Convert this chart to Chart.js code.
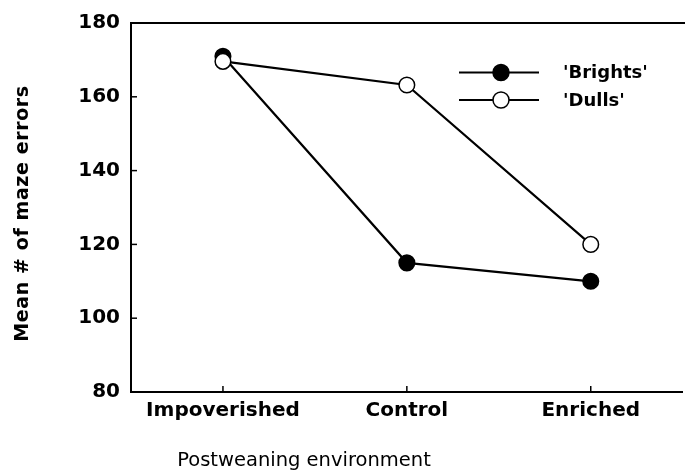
<!DOCTYPE html>
<html>
<head>
<meta charset="utf-8">
<script src="https://cdn.jsdelivr.net/npm/chart.js@4"></script>
<style>
  html, body { margin: 0; padding: 0; background: #fff; overflow: hidden; }
  #wrap { position: relative; width: 692px; height: 470px; }
</style>
</head>
<body>
<div id="wrap"><canvas id="c"></canvas></div>
<script>
const categories = ['Impoverished', 'Control', 'Enriched'];
const brights = [171, 115, 110];
const dulls = [169.6, 163.2, 120];
const yTicks = [80, 100, 120, 140, 160, 180];
const seriesNames = ["'Brights'", "'Dulls'"];
const xTitle = 'Postweaning environment';
const yTitle = 'Mean # of maze errors';

const customDraw = {
  id: 'customDraw',
  afterDraw(chart) {
    const ctx = chart.ctx;
    const a = chart.chartArea;
    const xs = chart.scales.x, ys = chart.scales.y;
    ctx.save();
    ctx.strokeStyle = '#000';
    ctx.lineWidth = 2;
    // top border
    ctx.beginPath();
    ctx.moveTo(a.left, a.top);
    ctx.lineTo(chart.width, a.top);
    ctx.stroke();
    // inward ticks
    ctx.lineWidth = 1.5;
    yTicks.forEach(v => {
      const y = ys.getPixelForValue(v);
      ctx.beginPath(); ctx.moveTo(a.left, y); ctx.lineTo(a.left + 6, y); ctx.stroke();
    });
    categories.forEach((c, i) => {
      const x = xs.getPixelForValue(i);
      ctx.beginPath(); ctx.moveTo(x, a.bottom); ctx.lineTo(x, a.bottom - 6); ctx.stroke();
    });
    // axis titles
    ctx.fillStyle = '#000';
    ctx.font = '19.5px "DejaVu Sans"';
    ctx.textAlign = 'center';
    ctx.textBaseline = 'alphabetic';
    ctx.fillText(xTitle, a.left + 173, 466);
    ctx.save();
    ctx.translate(28, (a.top + a.bottom) / 2 + 6);
    ctx.rotate(-Math.PI / 2);
    ctx.font = 'bold 19px "DejaVu Sans"';
    try { ctx.letterSpacing = '0.6px'; } catch (e) {}
    ctx.fillText(yTitle, 0, 0);
    ctx.restore();
    // legend
    const rows = [72.5, 100];
    chart.data.datasets.map((d, i) => ({ d, i }))
      .sort((p, q) => p.d.legendIndex - q.d.legendIndex)
      .forEach(({ d }, k) => {
        const y = rows[k];
        ctx.strokeStyle = '#000';
        ctx.lineWidth = 2.2;
        ctx.beginPath(); ctx.moveTo(459, y); ctx.lineTo(539, y); ctx.stroke();
        ctx.beginPath();
        ctx.arc(501, y, 8, 0, Math.PI * 2);
        ctx.fillStyle = d.pointBackgroundColor;
        ctx.fill();
        ctx.lineWidth = 1.5;
        ctx.stroke();
        ctx.fillStyle = '#000';
        ctx.font = 'bold 18px "DejaVu Sans"';
        ctx.textAlign = 'left';
        ctx.textBaseline = 'middle';
        ctx.fillText(d.label, 563, y + 1);
      });
    ctx.restore();
  }
};

new Chart(document.getElementById('c'), {
  type: 'line',
  data: {
    labels: categories,
    datasets: [
      {
        label: seriesNames[0], legendIndex: 0, order: 1,
        data: brights,
        borderColor: '#000', borderWidth: 2.2,
        pointBackgroundColor: '#000', pointBorderColor: '#000',
        pointRadius: 7.8, pointBorderWidth: 1.5, pointHoverRadius: 7.8,
        tension: 0, fill: false
      },
      {
        label: seriesNames[1], legendIndex: 1, order: 0,
        data: dulls,
        borderColor: '#000', borderWidth: 2.2,
        pointBackgroundColor: '#fff', pointBorderColor: '#000',
        pointRadius: 7.8, pointBorderWidth: 1.5, pointHoverRadius: 7.8,
        tension: 0, fill: false
      }
    ]
  },
  options: {
    responsive: true,
    maintainAspectRatio: false,
    animation: false,
    events: [],
    layout: { padding: { top: 21, right: 1, left: 0, bottom: 0 } },
    plugins: { legend: { display: false }, tooltip: { enabled: false }, title: { display: false } },
    scales: {
      x: {
        type: 'category',
        offset: true,
        grid: { display: false, drawTicks: false },
        border: { display: true, color: '#000', width: 2 },
        ticks: { color: '#000', font: { family: 'DejaVu Sans', size: 20, weight: 'bold' }, padding: 7, maxRotation: 0, autoSkip: false },
        afterFit(s) { s.height = 78; }
      },
      y: {
        min: 80, max: 180,
        afterBuildTicks(s) { s.ticks = yTicks.map(v => ({ value: v })); },
        grid: { display: false, drawTicks: false },
        border: { display: true, color: '#000', width: 2 },
        ticks: { color: '#000', font: { family: 'DejaVu Sans', size: 20, weight: 'bold' }, padding: 11 },
        afterFit(s) { s.width = 131; }
      }
    }
  },
  plugins: [customDraw]
});
</script>
</body>
</html>
